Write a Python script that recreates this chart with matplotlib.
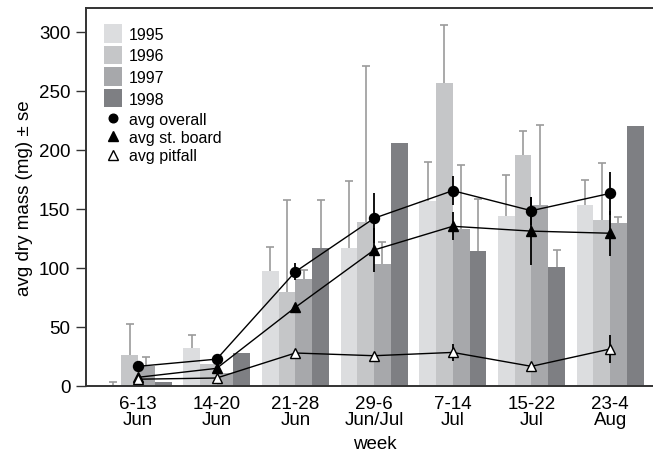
import matplotlib
matplotlib.use("Agg")
import matplotlib.pyplot as plt
import numpy as np
from matplotlib.patches import Patch
from matplotlib.lines import Line2D

plt.rcParams['font.family'] = ['Liberation Sans', 'DejaVu Sans']

weeks = ["6-13\nJun", "14-20\nJun", "21-28\nJun", "29-6\nJun/Jul",
         "7-14\nJul", "15-22\nJul", "23-4\nAug"]
years = ["1995", "1996", "1997", "1998"]

v1995 = [0, 32, 97.5, 116.7, 156.8, 144.1, 153.1]
e1995 = [3.4, 11, 19.8, 57, 33, 34.5, 21.2]
v1996 = [26.3, 18.4, 79.1, 139, 256.8, 195.5, 140.4]
e1996 = [26, 0, 78.3, 131.6, 49, 20.6, 48]
v1997 = [16.4, 10.8, 90.4, 103.1, 132.8, 153.2, 137.9]
e1997 = [8.2, 0, 7.6, 18.4, 54, 68, 4.8]
v1998 = [3.4, 27.5, 116.7, 205.4, 114.4, 100.8, 219.8]
e1998 = [0, 0, 40.7, 0, 43.8, 14.2, 0]

overall = [16.4, 22.5, 96.6, 141.9, 165.3, 148.3, 163]
overall_err = [0, 0, 7, 21, 12, 12, 18]
stboard = [7.1, 14.7, 66.4, 115, 135.1, 131, 129.2]
stboard_err = [0, 0, 0, 19, 12, 29, 19]
pitfall = [5.5, 6.5, 27.7, 25.4, 28.2, 16.4, 31.1]
pitfall_err = [0, 0, 0, 0, 7.5, 0, 12]

yticks = [0, 50, 100, 150, 200, 250, 300]

colors = ["#dcdddf", "#c5c6c8", "#a7a8ab", "#7e7f83"]
err_color = "#9b9b9b"

fig = plt.figure(figsize=(6.53, 4.56), dpi=100)
ax = fig.add_axes([0.1312, 0.152, 0.8688, 0.828])

x = np.arange(len(weeks))
w = 0.213
vals = [v1995, v1996, v1997, v1998]
errs = [e1995, e1996, e1997, e1998]
for i, (v, e) in enumerate(zip(vals, errs)):
    pos = x + (i - 1.5) * w
    ax.bar(pos, v, width=w, color=colors[i], edgecolor='none', zorder=2)
    e = np.array(e, dtype=float)
    v = np.array(v, dtype=float)
    mask = e > 0
    ax.errorbar(pos[mask], v[mask], yerr=[np.zeros(mask.sum()), e[mask]],
                fmt='none', ecolor=err_color, elinewidth=1.2, capsize=0, zorder=1.5)
    ax.plot(pos[mask], (v + e)[mask], ls='none', marker='_', markersize=6,
            markeredgewidth=1.2, color=err_color, zorder=1.5)

# series with markers
for vals_, errs_, mk, fc, ms in [(overall, overall_err, 'o', 'black', 7.2),
                                  (stboard, stboard_err, '^', 'black', 7.8),
                                  (pitfall, pitfall_err, '^', 'white', 7.8)]:
    e = np.array(errs_, dtype=float)
    mask = e > 0
    ax.errorbar(x[mask], np.array(vals_)[mask], yerr=e[mask], fmt='none',
                ecolor='black', elinewidth=1.3, capsize=0, zorder=3)
    ax.plot(x, vals_, color='black', lw=1.0, marker=mk, markersize=ms,
            markerfacecolor=fc, markeredgecolor='black', markeredgewidth=1.0, zorder=4)

ax.set_xlim(-0.665, 6.545)
ax.set_ylim(0, 320)
ax.set_yticks(yticks)
ax.set_xticks(x)
ax.set_xticklabels(weeks, fontsize=13.5, linespacing=0.88)
ax.tick_params(axis='x', length=0, pad=7)
ax.tick_params(axis='y', length=7.5, width=1.0, pad=3.5, labelsize=13.5, color='#333333')
for s in ['left', 'bottom', 'top']:
    ax.spines[s].set_linewidth(1.4)
    ax.spines[s].set_color('#333333')
ax.spines['right'].set_visible(False)
ax.set_xlabel("week", fontsize=13.5, labelpad=5, x=0.51)
ax.set_ylabel("avg dry mass (mg) ± se", fontsize=13.5, labelpad=4)

handles1 = [Patch(facecolor=c, edgecolor='none') for c in colors]
leg1 = ax.legend(handles1, years, loc='upper left', bbox_to_anchor=(0.0323, 0.9577),
                 frameon=False, fontsize=11.5, borderpad=0, borderaxespad=0,
                 handlelength=1.1, handleheight=1.4, labelspacing=0.2, handletextpad=0.45)
ax.add_artist(leg1)
handles2 = [Line2D([], [], ls='none', marker='o', color='black', markersize=6.2),
            Line2D([], [], ls='none', marker='^', color='black', markersize=7.5),
            Line2D([], [], ls='none', marker='^', markerfacecolor='white',
                   markeredgecolor='black', markersize=7.5)]
ax.legend(handles2, ["avg overall", "avg st. board", "avg pitfall"], loc='upper left',
          bbox_to_anchor=(0.0323, 0.7252), frameon=False, fontsize=11.5, borderpad=0,
          borderaxespad=0, handlelength=1.1, handleheight=0.7, labelspacing=0.2,
          handletextpad=0.45)

fig.savefig("out.png", dpi=100)
